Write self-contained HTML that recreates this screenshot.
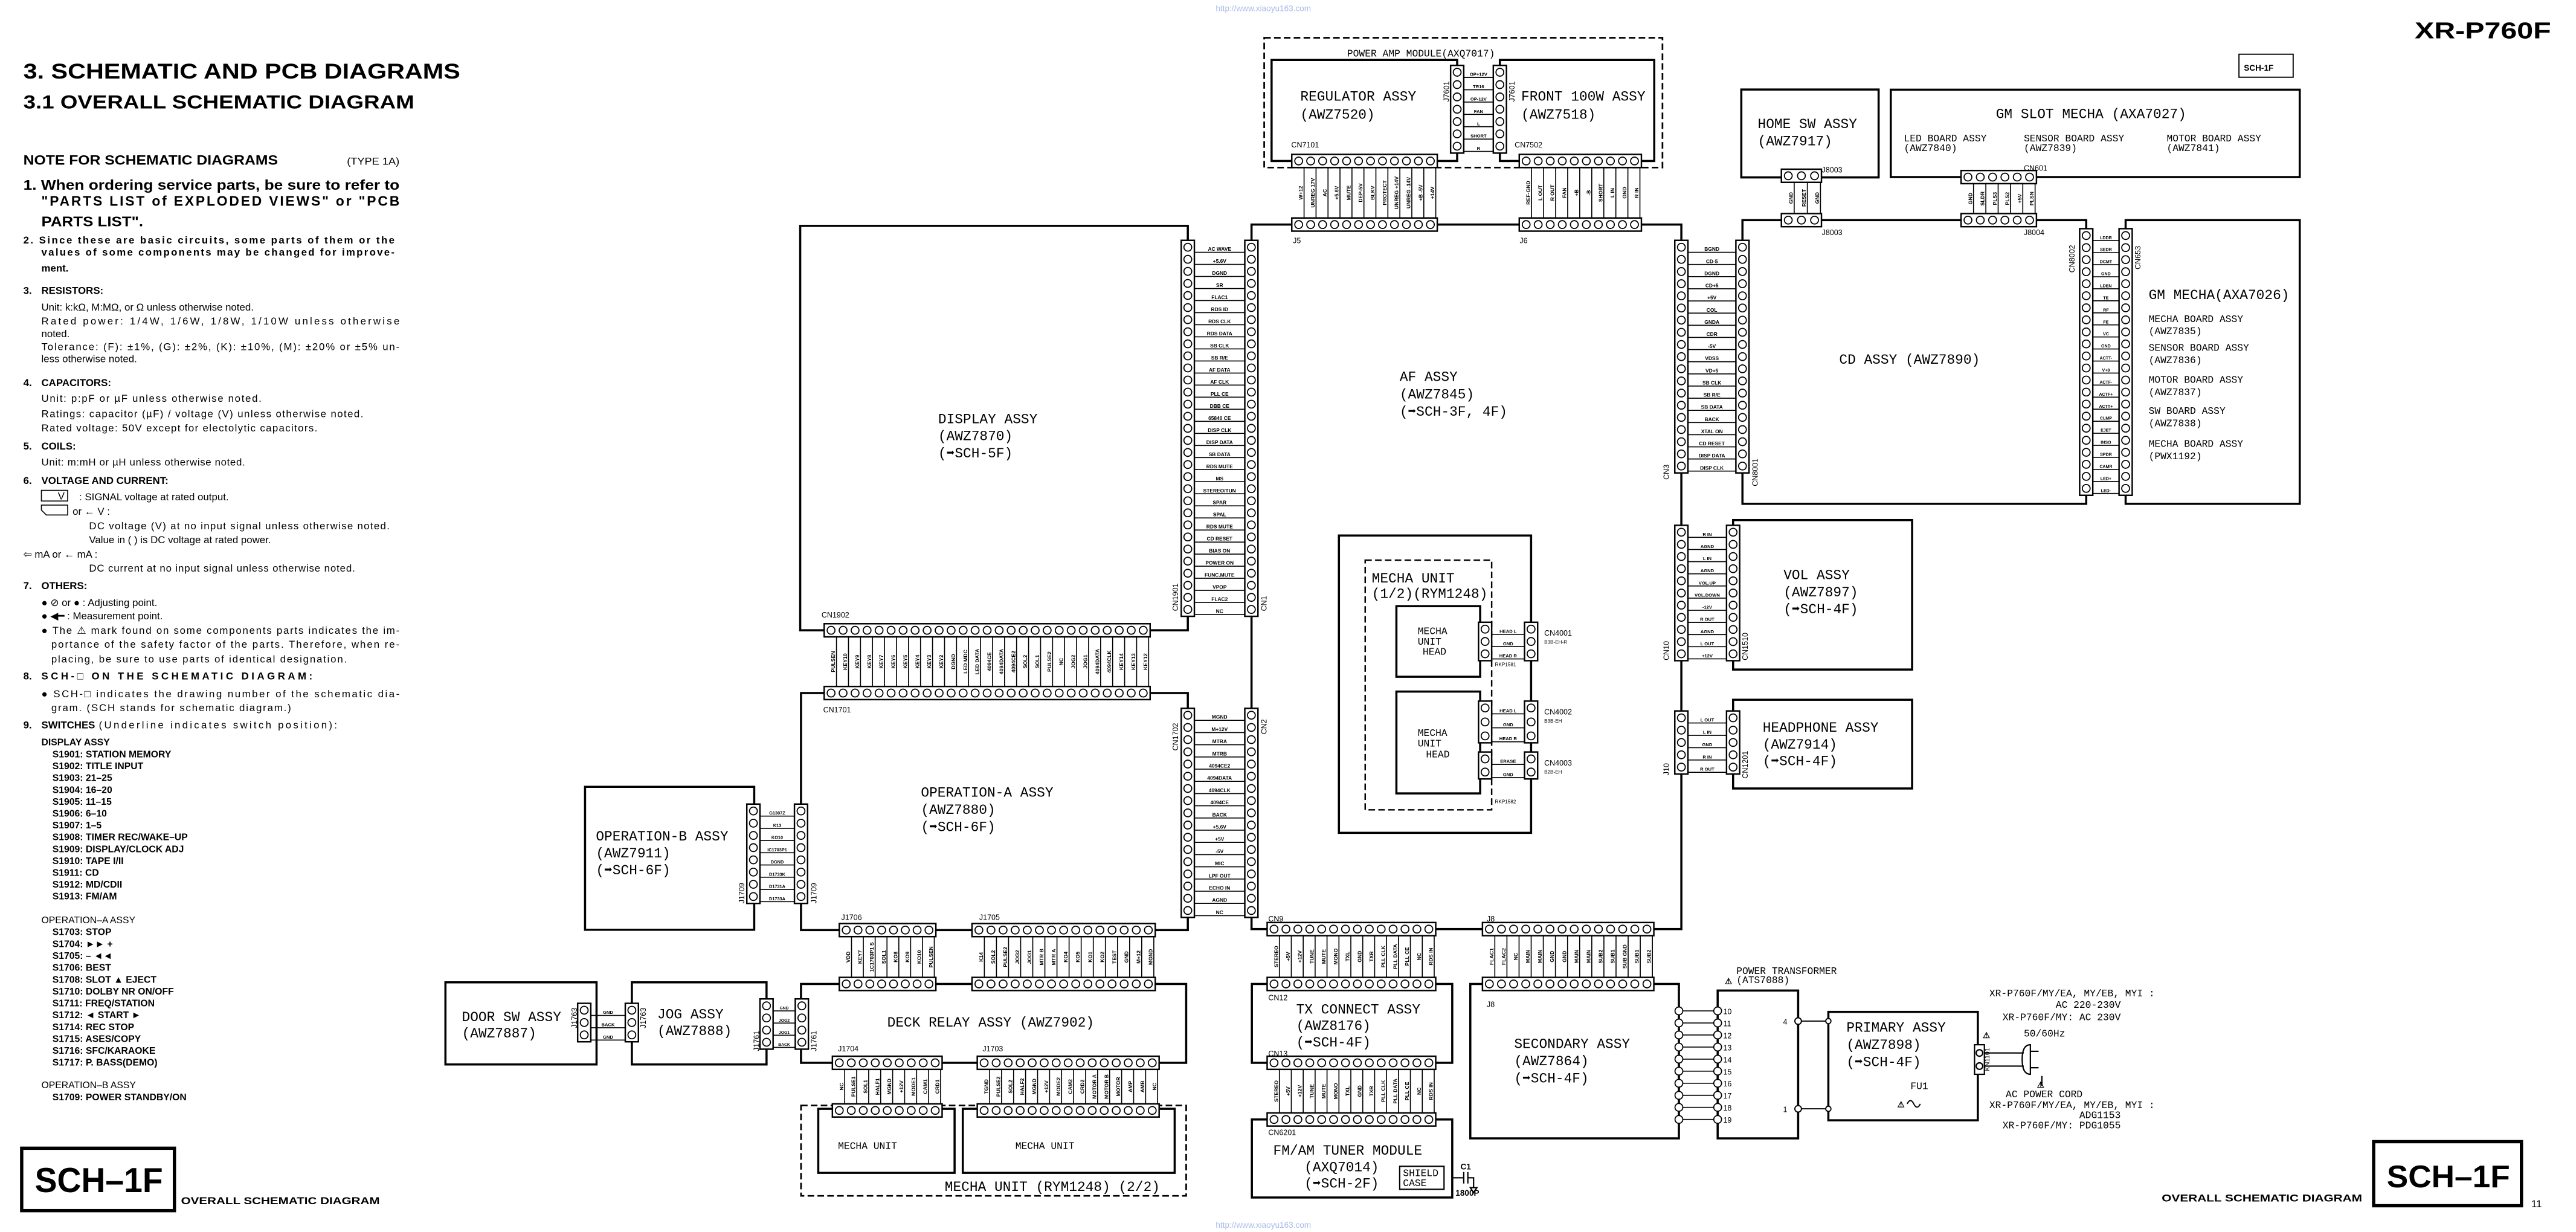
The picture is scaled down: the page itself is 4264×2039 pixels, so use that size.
<!DOCTYPE html>
<html><head><meta charset="utf-8">
<style>
html,body{margin:0;padding:0;background:#fff;}
svg{display:block;}
.m{font-family:"Liberation Mono",monospace;font-size:8.4px;fill:#000;}
.ms{font-family:"Liberation Mono",monospace;font-size:6px;fill:#000;}
.n{font-family:"Liberation Sans",sans-serif;font-size:5px;font-weight:bold;fill:#000;}
.s{font-family:"Liberation Sans",sans-serif;font-size:6.2px;fill:#000;}
.sb{font-family:"Liberation Sans",sans-serif;font-size:6.2px;font-weight:bold;fill:#000;}
.sw{font-family:"Liberation Sans",sans-serif;font-size:5.8px;font-weight:bold;fill:#000;}
.h{font-family:"Liberation Sans",sans-serif;font-weight:bold;fill:#000;}
.w{font-family:"Liberation Sans",sans-serif;font-size:5px;fill:#a9bce6;}
.pl{font-family:"Liberation Sans",sans-serif;font-weight:bold;font-size:3.2px;fill:#000;}
.cl{font-family:"Liberation Sans",sans-serif;font-size:4.6px;fill:#000;}
.cr{fill:#fff;stroke:#000;stroke-width:0.9;}
.d1{fill:none;stroke:#000;stroke-width:5.4;stroke-linecap:round;}
.d2{fill:none;stroke:#fff;stroke-width:4.1;stroke-linecap:round;}
.br{fill:none;stroke:#000;}
</style></head>
<body>
<svg xmlns="http://www.w3.org/2000/svg" width="4264" height="2039" viewBox="0 0 1568 750">
<rect x="0" y="0" width="1568" height="750" fill="#fff"/>
<text class="w" x="740" y="6.8">http://www.xiaoyu163.com</text>
<text class="w" x="740" y="747.5">http://www.xiaoyu163.com</text>
<text class="h" x="1470" y="23.3" font-size="14" textLength="83" lengthAdjust="spacingAndGlyphs">XR-P760F</text>
<rect x="1363" y="33" width="33" height="14" fill="none" stroke="#000" stroke-width="0.7"/>
<text class="n" x="1366" y="43" font-size="5.5" font-weight="normal">SCH-1F</text>

<text class="h" x="14" y="47.8" font-size="12.8" textLength="266" lengthAdjust="spacingAndGlyphs">3. SCHEMATIC AND PCB DIAGRAMS</text>
<text class="h" x="14" y="66" font-size="11.5" textLength="238" lengthAdjust="spacingAndGlyphs">3.1  OVERALL SCHEMATIC DIAGRAM</text>

<text class="h" x="14" y="100.3" font-size="8" textLength="155" lengthAdjust="spacingAndGlyphs">NOTE FOR SCHEMATIC DIAGRAMS</text>
<text class="s" x="211" y="100.3" textLength="32" lengthAdjust="spacingAndGlyphs">(TYPE 1A)</text>
<text class="h" x="14" y="115.5" font-size="8.4" textLength="229" lengthAdjust="spacingAndGlyphs">1. When ordering service parts, be sure to refer to</text>
<text class="h" x="25" y="125.3" font-size="8.4" textLength="218" lengthAdjust="spacing">"PARTS LIST of EXPLODED VIEWS" or "PCB</text>
<text class="h" x="25" y="137.7" font-size="8.4" textLength="62" lengthAdjust="spacingAndGlyphs">PARTS LIST".</text>
<text class="sb" x="14" y="148.3" textLength="226" lengthAdjust="spacing">2. Since these are basic circuits, some parts of them or the</text>
<text class="sb" x="25" y="155.5" textLength="215" lengthAdjust="spacing">values of some components may be changed for improve-</text>
<text class="sb" x="25" y="165.3">ment.</text>
<text class="sb" x="14" y="179">3.</text><text class="sb" x="25" y="179">RESISTORS:</text>
<text class="s" x="25" y="189">Unit: k:kΩ, M:MΩ, or Ω unless otherwise noted.</text>
<text class="s" x="25" y="197.5" textLength="218" lengthAdjust="spacing">Rated power: 1/4W, 1/6W, 1/8W, 1/10W unless otherwise</text>
<text class="s" x="25" y="205.3">noted.</text>
<text class="s" x="25" y="213.2" textLength="218" lengthAdjust="spacing">Tolerance: (F): ±1%, (G): ±2%, (K): ±10%, (M): ±20% or ±5% un-</text>
<text class="s" x="25" y="220.5">less otherwise noted.</text>
<text class="sb" x="14" y="235">4.</text><text class="sb" x="25" y="235">CAPACITORS:</text>
<text class="s" x="25" y="244.6" textLength="134" lengthAdjust="spacing">Unit: p:pF or µF unless otherwise noted.</text>
<text class="s" x="25" y="254" textLength="196" lengthAdjust="spacing">Ratings: capacitor (µF) / voltage (V) unless otherwise noted.</text>
<text class="s" x="25" y="262.6" textLength="168" lengthAdjust="spacing">Rated voltage: 50V except for electolytic capacitors.</text>
<text class="sb" x="14" y="273.6">5.</text><text class="sb" x="25" y="273.6">COILS:</text>
<text class="s" x="25" y="283.5" textLength="124" lengthAdjust="spacing">Unit: m:mH or µH unless otherwise noted.</text>
<text class="sb" x="14" y="294.6">6.</text><text class="sb" x="25" y="294.6">VOLTAGE AND CURRENT:</text>
<path d="M25 298.5 H41 V305 H25 Z M25 307.5 H41 V313.5 H28 L25 310.5 Z" fill="none" stroke="#000" stroke-width="0.6"/>
<text class="s" x="35" y="304" font-size="5">V</text>
<text class="s" x="48" y="304.5">: SIGNAL voltage at rated output.</text>
<text class="s" x="44" y="313.3">or ← V :</text>
<text class="s" x="54" y="322.2" textLength="183" lengthAdjust="spacing">DC voltage (V) at no input signal unless otherwise noted.</text>
<text class="s" x="54" y="330.6">Value in (     ) is DC voltage at rated power.</text>
<text class="s" x="14" y="339.5">⇦   mA  or  ← mA :</text>
<text class="s" x="54" y="347.9" textLength="162" lengthAdjust="spacing">DC current at no input signal unless otherwise noted.</text>
<text class="sb" x="14" y="358.6">7.</text><text class="sb" x="25" y="358.6">OTHERS:</text>
<text class="s" x="25" y="368.9">● ⊘  or  ●  : Adjusting point.</text>
<text class="s" x="25" y="377">●      ◀━   : Measurement point.</text>
<text class="s" x="25" y="385.8" textLength="218" lengthAdjust="spacing">● The  ⚠  mark found on some components parts indicates the  im-</text>
<text class="s" x="31" y="394.4" textLength="212" lengthAdjust="spacing">portance of the safety factor of the parts. Therefore, when re-</text>
<text class="s" x="31" y="403.4" textLength="180" lengthAdjust="spacing">placing, be sure to use parts of identical designation.</text>
<text class="sb" x="14" y="413.7">8.</text><text class="sb" x="25" y="413.7" textLength="165" lengthAdjust="spacing">SCH-□  ON THE SCHEMATIC DIAGRAM:</text>
<text class="s" x="25" y="424.4" textLength="218" lengthAdjust="spacing">● SCH-□ indicates the drawing number of the schematic dia-</text>
<text class="s" x="31" y="433" textLength="146" lengthAdjust="spacing">gram. (SCH stands for schematic diagram.)</text>
<text class="sb" x="14" y="443.4">9.</text><text class="sb" x="25" y="443.4">SWITCHES</text><text class="s" x="60" y="443.4" textLength="145" lengthAdjust="spacing">(Underline indicates switch position):</text>
<text class="sw" x="25" y="453.7" font-weight="normal">DISPLAY ASSY</text>
<g class="sw">
<text x="31.7" y="461">S1901: STATION MEMORY</text>
<text x="31.7" y="468.2">S1902: TITLE INPUT</text>
<text x="31.7" y="475.4">S1903: 21–25</text>
<text x="31.7" y="482.7">S1904: 16–20</text>
<text x="31.7" y="489.9">S1905: 11–15</text>
<text x="31.7" y="497.1">S1906: 6–10</text>
<text x="31.7" y="504.3">S1907: 1–5</text>
<text x="31.7" y="511.5">S1908: TIMER REC/WAKE–UP</text>
<text x="31.7" y="518.8">S1909: DISPLAY/CLOCK ADJ</text>
<text x="31.7" y="526">S1910: TAPE I/II</text>
<text x="31.7" y="533.2">S1911: CD</text>
<text x="31.7" y="540.4">S1912: MD/CDII</text>
<text x="31.7" y="547.6">S1913: FM/AM</text>
<text x="25" y="562" font-weight="normal">OPERATION–A ASSY</text>
<text x="31.7" y="569.3">S1703: STOP</text>
<text x="31.7" y="576.5">S1704: ►► +</text>
<text x="31.7" y="583.7">S1705: – ◄◄</text>
<text x="31.7" y="591">S1706: BEST</text>
<text x="31.7" y="598.2">S1708: SLOT ▲ EJECT</text>
<text x="31.7" y="605.4">S1710: DOLBY NR ON/OFF</text>
<text x="31.7" y="612.6">S1711: FREQ/STATION</text>
<text x="31.7" y="619.8">S1712: ◄ START ►</text>
<text x="31.7" y="627.1">S1714: REC STOP</text>
<text x="31.7" y="634.3">S1715: ASES/COPY</text>
<text x="31.7" y="641.5">S1716: SFC/KARAOKE</text>
<text x="31.7" y="648.7">S1717: P. BASS(DEMO)</text>
<text x="25" y="662.4" font-weight="normal">OPERATION–B ASSY</text>
<text x="31.7" y="669.8">S1709: POWER STANDBY/ON</text>
</g>
<rect x="13" y="699" width="93" height="38" fill="none" stroke="#000" stroke-width="2"/>
<text class="h" x="21" y="725.7" font-size="21" textLength="78" lengthAdjust="spacingAndGlyphs">SCH–1F</text>
<text class="h" x="110" y="733" font-size="6.2" textLength="121" lengthAdjust="spacingAndGlyphs">OVERALL SCHEMATIC DIAGRAM</text>
<rect x="1445" y="695" width="90" height="39" fill="none" stroke="#000" stroke-width="2"/>
<text class="h" x="1453" y="722.7" font-size="19" textLength="75" lengthAdjust="spacingAndGlyphs">SCH–1F</text>
<text class="h" x="1316" y="731.5" font-size="6.2" font-weight="normal" textLength="122" lengthAdjust="spacingAndGlyphs">OVERALL SCHEMATIC DIAGRAM</text>
<text class="s" x="1541" y="735" font-size="7.5">11</text>

<!-- boxes -->
<g fill="none" stroke="#000" stroke-width="1.3">
<rect x="769.5" y="23" width="242.5" height="79" stroke-dasharray="4 2" stroke-width="1"/>
<rect x="774" y="36.5" width="113" height="61.5"/>
<rect x="913" y="36.5" width="94" height="61.5"/>
<rect x="761.8" y="136.7" width="261.7" height="428.9"/>
<rect x="487" y="137.5" width="236" height="246.2"/>
<rect x="487.5" y="421.9" width="235.5" height="144.3"/>
<rect x="356" y="479" width="103" height="87"/>
<rect x="487.5" y="599" width="234.5" height="48"/>
<rect x="271" y="598" width="92" height="50"/>
<rect x="384.5" y="598" width="82" height="50"/>
<rect x="487.5" y="673" width="234.5" height="55" stroke-dasharray="4 2" stroke-width="1"/>
<rect x="498" y="675" width="83" height="39"/>
<rect x="586" y="675" width="129" height="39"/>
<rect x="815" y="326" width="117" height="181"/>
<rect x="831" y="341" width="77" height="152" stroke-dasharray="4 2" stroke-width="0.9"/>
<rect x="850" y="369" width="51" height="43"/>
<rect x="850" y="421" width="51" height="62"/>
<rect x="1060.7" y="134" width="209.3" height="172.7"/>
<rect x="1060" y="54.5" width="83.6" height="53.5"/>
<rect x="1151" y="54.6" width="249" height="53.2"/>
<rect x="1294" y="134" width="106" height="172.7"/>
<rect x="1055" y="316.6" width="109" height="91"/>
<rect x="1055" y="426" width="109" height="54"/>
<rect x="762" y="599" width="122" height="48"/>
<rect x="762" y="681.5" width="122" height="47.5"/>
<rect x="895" y="599" width="127" height="94"/>
<rect x="1045.6" y="603" width="49" height="90"/>
<rect x="1113" y="616" width="91" height="66"/>
<rect x="852" y="710" width="27" height="14" stroke-width="0.8"/>
</g>

<!-- ========== CONNECTORS ========== -->
<!-- bridge bars -->
<g class="br">
<line x1="900" y1="46.85" x2="900" y2="99.35" stroke-width="18" stroke-dasharray="0.6 6.9"/>
<line x1="793.48" y1="117.35" x2="880.96" y2="117.35" stroke-width="30.7" stroke-dasharray="0.6 6.69"/>
<line x1="932" y1="117.35" x2="1005.3" y2="117.35" stroke-width="30.7" stroke-dasharray="0.6 6.73"/>
<line x1="742.35" y1="153.29" x2="742.35" y2="381.14" stroke-width="30.7" stroke-dasharray="0.6 6.75"/>
<line x1="508.79" y1="402.8" x2="706.16" y2="402.8" stroke-width="30.2" stroke-dasharray="0.6 6.71"/>
<line x1="742.35" y1="438.22" x2="742.35" y2="564.53" stroke-width="30.7" stroke-dasharray="0.6 6.83"/>
<line x1="473" y1="496.52" x2="473" y2="556.04" stroke-width="21" stroke-dasharray="0.6 6.84"/>
<line x1="517.94" y1="582.6" x2="575.54" y2="582.6" stroke-width="24.8" stroke-dasharray="0.6 6.6"/>
<line x1="598.82" y1="582.6" x2="709.37" y2="582.6" stroke-width="24.8" stroke-dasharray="0.6 6.77"/>
<line x1="477.25" y1="615.11" x2="477.25" y2="644.71" stroke-width="13.5" stroke-dasharray="0.6 6.8"/>
<line x1="370" y1="617.85" x2="370" y2="640.35" stroke-width="21" stroke-dasharray="0.6 6.9"/>
<line x1="513.79" y1="661.5" x2="579.49" y2="661.5" stroke-width="21" stroke-dasharray="0.6 6.7"/>
<line x1="601.99" y1="661.5" x2="711.64" y2="661.5" stroke-width="21" stroke-dasharray="0.6 6.71"/>
<line x1="918" y1="385.85" x2="918" y2="408.35" stroke-width="20" stroke-dasharray="0.6 6.9"/>
<line x1="918" y1="434.27" x2="918" y2="459.77" stroke-width="20" stroke-dasharray="0.6 7.9"/>
<line x1="918" y1="465.06" x2="918" y2="481.06" stroke-width="20" stroke-dasharray="0.6 7.4"/>
<line x1="1042.1" y1="153.31" x2="1042.1" y2="293.91" stroke-width="29.2" stroke-dasharray="0.6 6.8"/>
<line x1="1091.9" y1="120.5" x2="1115.9" y2="120.5" stroke-width="19" stroke-dasharray="0.6 7.4"/>
<line x1="1201.08" y1="120.9" x2="1246.08" y2="120.9" stroke-width="18.2" stroke-dasharray="0.6 6.9"/>
<line x1="1282" y1="146.18" x2="1282" y2="307.44" stroke-width="16" stroke-dasharray="0.6 6.73"/>
<line x1="1039.25" y1="326.81" x2="1039.25" y2="408.21" stroke-width="23.5" stroke-dasharray="0.6 6.8"/>
<line x1="1039.25" y1="439.85" x2="1039.25" y2="477.35" stroke-width="23.5" stroke-dasharray="0.6 6.9"/>
<line x1="778.46" y1="582.3" x2="879.96" y2="582.3" stroke-width="25.4" stroke-dasharray="0.6 6.65"/>
<line x1="778.46" y1="664.25" x2="879.96" y2="664.25" stroke-width="26.5" stroke-dasharray="0.6 6.65"/>
<line x1="909.62" y1="582.3" x2="1012.94" y2="582.3" stroke-width="25.4" stroke-dasharray="0.6 6.78"/>
<line x1="1033.8" y1="615.1" x2="1033.8" y2="688.5" stroke-width="23.6" stroke-dasharray="0.6 6.74"/>
</g>

<!-- connector bodies -->
<g class="cr">
<rect x="883" y="39.8" width="8" height="53.4"/><rect x="909" y="39.8" width="8" height="53.4"/>
<rect x="786.3" y="94" width="88.59" height="8"/><rect x="786.3" y="132.7" width="88.59" height="8"/>
<rect x="924.8" y="94" width="74.37" height="8"/><rect x="924.8" y="132.7" width="74.37" height="8"/>
<rect x="719" y="146.3" width="8" height="228.9"/><rect x="757.7" y="146.3" width="8" height="228.9"/>
<rect x="501.6" y="379.7" width="198.46" height="8"/><rect x="501.6" y="417.9" width="198.46" height="8"/>
<rect x="719" y="431.2" width="8" height="127.28"/><rect x="757.7" y="431.2" width="8" height="127.28"/>
<rect x="454.5" y="489.5" width="8" height="60.48"/><rect x="483.5" y="489.5" width="8" height="60.48"/>
<rect x="510.8" y="562.2" width="58.8" height="8"/><rect x="510.8" y="595" width="58.8" height="8"/>
<rect x="591.6" y="562.2" width="111.58" height="8"/><rect x="591.6" y="595" width="111.58" height="8"/>
<rect x="462.5" y="608.1" width="8" height="30.6"/><rect x="484" y="608.1" width="8" height="30.6"/>
<rect x="351.5" y="610.8" width="8" height="23.4"/><rect x="380.5" y="610.8" width="8" height="23.4"/>
<rect x="506.6" y="643" width="66.8" height="8"/><rect x="506.6" y="672" width="66.8" height="8"/>
<rect x="594.8" y="643" width="110.74" height="8"/><rect x="594.8" y="672" width="110.74" height="8"/>
<rect x="900" y="378.8" width="8" height="23.4"/><rect x="928" y="378.8" width="8" height="23.4"/>
<rect x="900" y="426.8" width="8" height="25.4"/><rect x="928" y="426.8" width="8" height="25.4"/>
<rect x="900" y="457.8" width="8" height="16.4"/><rect x="928" y="457.8" width="8" height="16.4"/>
<rect x="1019.5" y="146.3" width="8" height="141.6"/><rect x="1056.7" y="146.3" width="8" height="141.6"/>
<rect x="1084.4" y="103" width="24.4" height="8"/><rect x="1084.4" y="130" width="24.4" height="8"/>
<rect x="1193.8" y="103.8" width="45.9" height="8"/><rect x="1193.8" y="130" width="45.9" height="8"/>
<rect x="1266" y="139.2" width="8" height="162.33"/><rect x="1290" y="139.2" width="8" height="162.33"/>
<rect x="1019.5" y="319.8" width="8" height="82.4"/><rect x="1051" y="319.8" width="8" height="82.4"/>
<rect x="1019.5" y="432.8" width="8" height="38.4"/><rect x="1051" y="432.8" width="8" height="38.4"/>
<rect x="771.3" y="561.6" width="102.65" height="8"/><rect x="771.3" y="595" width="102.65" height="8"/>
<rect x="771.3" y="643" width="102.65" height="8"/><rect x="771.3" y="677.5" width="102.65" height="8"/>
<rect x="902.4" y="561.6" width="104.34" height="8"/><rect x="902.4" y="595" width="104.34" height="8"/>
</g>

<!-- pins: black rings -->
<g>
<path class="d1" stroke-dasharray="0 7.5" d="M887 44 V89.01 M913 44 V89.01"/>
<path class="d2" stroke-dasharray="0 7.5" d="M887 44 V89.01 M913 44 V89.01"/>
<path class="d1" stroke-dasharray="0 7.29" d="M790.5 98 H870.7 M790.5 136.7 H870.7"/>
<path class="d2" stroke-dasharray="0 7.29" d="M790.5 98 H870.7 M790.5 136.7 H870.7"/>
<path class="d1" stroke-dasharray="0 7.33" d="M929 98 H994.98 M929 136.7 H994.98"/>
<path class="d2" stroke-dasharray="0 7.33" d="M929 98 H994.98 M929 136.7 H994.98"/>
<path class="d1" stroke-dasharray="0 7.35" d="M723 150.5 V371.01 M761.7 150.5 V371.01"/>
<path class="d2" stroke-dasharray="0 7.35" d="M723 150.5 V371.01 M761.7 150.5 V371.01"/>
<path class="d1" stroke-dasharray="0 7.31" d="M505.8 383.7 H695.87 M505.8 421.9 H695.87"/>
<path class="d2" stroke-dasharray="0 7.31" d="M505.8 383.7 H695.87 M505.8 421.9 H695.87"/>
<path class="d1" stroke-dasharray="0 7.43" d="M723 435.4 V554.29 M761.7 435.4 V554.29"/>
<path class="d2" stroke-dasharray="0 7.43" d="M723 435.4 V554.29 M761.7 435.4 V554.29"/>
<path class="d1" stroke-dasharray="0 7.44" d="M458.5 493.7 V545.79 M487.5 493.7 V545.79"/>
<path class="d2" stroke-dasharray="0 7.44" d="M458.5 493.7 V545.79 M487.5 493.7 V545.79"/>
<path class="d1" stroke-dasharray="0 7.2" d="M515 566.2 H565.41 M515 599 H565.41"/>
<path class="d2" stroke-dasharray="0 7.2" d="M515 566.2 H565.41 M515 599 H565.41"/>
<path class="d1" stroke-dasharray="0 7.37" d="M595.8 566.2 H698.99 M595.8 599 H698.99"/>
<path class="d2" stroke-dasharray="0 7.37" d="M595.8 566.2 H698.99 M595.8 599 H698.99"/>
<path class="d1" stroke-dasharray="0 7.4" d="M466.5 612.3 V634.51 M488 612.3 V634.51"/>
<path class="d2" stroke-dasharray="0 7.4" d="M466.5 612.3 V634.51 M488 612.3 V634.51"/>
<path class="d1" stroke-dasharray="0 7.5" d="M355.5 615 V630.01 M384.5 615 V630.01"/>
<path class="d2" stroke-dasharray="0 7.5" d="M355.5 615 V630.01 M384.5 615 V630.01"/>
<path class="d1" stroke-dasharray="0 7.3" d="M510.8 647 H569.21 M510.8 676 H569.21"/>
<path class="d2" stroke-dasharray="0 7.3" d="M510.8 647 H569.21 M510.8 676 H569.21"/>
<path class="d1" stroke-dasharray="0 7.31" d="M599 647 H701.35 M599 676 H701.35"/>
<path class="d2" stroke-dasharray="0 7.31" d="M599 647 H701.35 M599 676 H701.35"/>
<path class="d1" stroke-dasharray="0 7.5" d="M904 383 V398.01 M932 383 V398.01"/>
<path class="d2" stroke-dasharray="0 7.5" d="M904 383 V398.01 M932 383 V398.01"/>
<path class="d1" stroke-dasharray="0 8.5" d="M904 431 V448.01 M932 431 V448.01"/>
<path class="d2" stroke-dasharray="0 8.5" d="M904 431 V448.01 M932 431 V448.01"/>
<path class="d1" stroke-dasharray="0 8" d="M904 462 V470.01 M932 462 V470.01"/>
<path class="d2" stroke-dasharray="0 8" d="M904 462 V470.01 M932 462 V470.01"/>
<path class="d1" stroke-dasharray="0 7.4" d="M1023.5 150.5 V283.71 M1060.7 150.5 V283.71"/>
<path class="d2" stroke-dasharray="0 7.4" d="M1023.5 150.5 V283.71 M1060.7 150.5 V283.71"/>
<path class="d1" stroke-dasharray="0 8" d="M1088.6 107 H1104.61 M1088.6 134 H1104.61"/>
<path class="d2" stroke-dasharray="0 8" d="M1088.6 107 H1104.61 M1088.6 134 H1104.61"/>
<path class="d1" stroke-dasharray="0 7.5" d="M1198 107.8 H1235.51 M1198 134 H1235.51"/>
<path class="d2" stroke-dasharray="0 7.5" d="M1198 107.8 H1235.51 M1198 134 H1235.51"/>
<path class="d1" stroke-dasharray="0 7.33" d="M1270 143.4 V297.34 M1294 143.4 V297.34"/>
<path class="d2" stroke-dasharray="0 7.33" d="M1270 143.4 V297.34 M1294 143.4 V297.34"/>
<path class="d1" stroke-dasharray="0 7.4" d="M1023.5 324 V398.01 M1055 324 V398.01"/>
<path class="d2" stroke-dasharray="0 7.4" d="M1023.5 324 V398.01 M1055 324 V398.01"/>
<path class="d1" stroke-dasharray="0 7.5" d="M1023.5 437 V467.01 M1055 437 V467.01"/>
<path class="d2" stroke-dasharray="0 7.5" d="M1023.5 437 V467.01 M1055 437 V467.01"/>
<path class="d1" stroke-dasharray="0 7.25" d="M775.5 565.6 H869.76 M775.5 599 H869.76 M775.5 647 H869.76 M775.5 681.5 H869.76"/>
<path class="d2" stroke-dasharray="0 7.25" d="M775.5 565.6 H869.76 M775.5 599 H869.76 M775.5 647 H869.76 M775.5 681.5 H869.76"/>
<path class="d1" stroke-dasharray="0 7.38" d="M906.6 565.6 H1002.55 M906.6 599 H1002.55"/>
<path class="d2" stroke-dasharray="0 7.38" d="M906.6 565.6 H1002.55 M906.6 599 H1002.55"/>
<path class="d1" stroke-dasharray="0 7.34" stroke-width="4" d="M1022 615.4 V681.47 M1045.6 615.4 V681.47"/>
<path class="d2" stroke-dasharray="0 7.34" stroke-width="2.8" d="M1022 615.4 V681.47 M1045.6 615.4 V681.47"/>
</g>

<!-- pin labels: vertical-bridge (row) labels -->
<g class="pl" text-anchor="middle">
<text x="900" y="46.25" font-size="2.8"><tspan x="900">OP+12V</tspan><tspan x="900" dy="7.5">TR16</tspan><tspan x="900" dy="7.5">OP-12V</tspan><tspan x="900" dy="7.5">FAN</tspan><tspan x="900" dy="7.5">L</tspan><tspan x="900" dy="7.5">SHORT</tspan><tspan x="900" dy="7.5">R</tspan></text>
<text x="742.35" y="152.69" font-size="3.1"><tspan x="742.35">AC WAVE</tspan><tspan x="742.35" dy="7.35">+5.6V</tspan><tspan x="742.35" dy="7.35">DGND</tspan><tspan x="742.35" dy="7.35">SR</tspan><tspan x="742.35" dy="7.35">FLAC1</tspan><tspan x="742.35" dy="7.35">RDS ID</tspan><tspan x="742.35" dy="7.35">RDS CLK</tspan><tspan x="742.35" dy="7.35">RDS DATA</tspan><tspan x="742.35" dy="7.35">SB CLK</tspan><tspan x="742.35" dy="7.35">SB R/E</tspan><tspan x="742.35" dy="7.35">AF DATA</tspan><tspan x="742.35" dy="7.35">AF CLK</tspan><tspan x="742.35" dy="7.35">PLL CE</tspan><tspan x="742.35" dy="7.35">DBB CE</tspan><tspan x="742.35" dy="7.35">65840 CE</tspan><tspan x="742.35" dy="7.35">DISP CLK</tspan><tspan x="742.35" dy="7.35">DISP DATA</tspan><tspan x="742.35" dy="7.35">SB DATA</tspan><tspan x="742.35" dy="7.35">RDS MUTE</tspan><tspan x="742.35" dy="7.35">MS</tspan><tspan x="742.35" dy="7.35">STEREO/TUN</tspan><tspan x="742.35" dy="7.35">SPAR</tspan><tspan x="742.35" dy="7.35">SPAL</tspan><tspan x="742.35" dy="7.35">RDS MUTE</tspan><tspan x="742.35" dy="7.35">CD RESET</tspan><tspan x="742.35" dy="7.35">BIAS ON</tspan><tspan x="742.35" dy="7.35">POWER ON</tspan><tspan x="742.35" dy="7.35">FUNC.MUTE</tspan><tspan x="742.35" dy="7.35">VPOP</tspan><tspan x="742.35" dy="7.35">FLAC2</tspan><tspan x="742.35" dy="7.35">NC</tspan></text>
<text x="742.35" y="437.62" font-size="3.1"><tspan x="742.35">MGND</tspan><tspan x="742.35" dy="7.43">M+12V</tspan><tspan x="742.35" dy="7.43">MTRA</tspan><tspan x="742.35" dy="7.43">MTRB</tspan><tspan x="742.35" dy="7.43">4094CE2</tspan><tspan x="742.35" dy="7.43">4094DATA</tspan><tspan x="742.35" dy="7.43">4094CLK</tspan><tspan x="742.35" dy="7.43">4094CE</tspan><tspan x="742.35" dy="7.43">BACK</tspan><tspan x="742.35" dy="7.43">+5.6V</tspan><tspan x="742.35" dy="7.43">+5V</tspan><tspan x="742.35" dy="7.43">-5V</tspan><tspan x="742.35" dy="7.43">MIC</tspan><tspan x="742.35" dy="7.43">LPF OUT</tspan><tspan x="742.35" dy="7.43">ECHO IN</tspan><tspan x="742.35" dy="7.43">AGND</tspan><tspan x="742.35" dy="7.43">NC</tspan></text>
<text x="473" y="495.92" font-size="2.7"><tspan x="473">G1307Z</tspan><tspan x="473" dy="7.44">K13</tspan><tspan x="473" dy="7.44">KO10</tspan><tspan x="473" dy="7.44">IC1703P1</tspan><tspan x="473" dy="7.44">DGND</tspan><tspan x="473" dy="7.44">D1733K</tspan><tspan x="473" dy="7.44">D1731A</tspan><tspan x="473" dy="7.44">D1733A</tspan></text>
<text x="477.25" y="614.51" font-size="2.5"><tspan x="477.25">GND</tspan><tspan x="477.25" dy="7.4">JOG2</tspan><tspan x="477.25" dy="7.4">JOG1</tspan><tspan x="477.25" dy="7.4">BACK</tspan></text>
<text x="370" y="617.25" font-size="2.8"><tspan x="370">GND</tspan><tspan x="370" dy="7.5">BACK</tspan><tspan x="370" dy="7.5">GND</tspan></text>
<text x="918" y="385.25" font-size="2.8"><tspan x="918">HEAD L</tspan><tspan x="918" dy="7.5">GND</tspan><tspan x="918" dy="7.5">HEAD R</tspan></text>
<text x="918" y="433.67" font-size="2.8"><tspan x="918">HEAD L</tspan><tspan x="918" dy="8.5">GND</tspan><tspan x="918" dy="8.5">HEAD R</tspan></text>
<text x="918" y="464.46" font-size="2.8"><tspan x="918">ERASE</tspan><tspan x="918" dy="8">GND</tspan></text>
<text x="1042.1" y="152.71" font-size="3.1"><tspan x="1042.1">BGND</tspan><tspan x="1042.1" dy="7.4">CD-5</tspan><tspan x="1042.1" dy="7.4">DGND</tspan><tspan x="1042.1" dy="7.4">CD+5</tspan><tspan x="1042.1" dy="7.4">+5V</tspan><tspan x="1042.1" dy="7.4">COL</tspan><tspan x="1042.1" dy="7.4">GNDA</tspan><tspan x="1042.1" dy="7.4">CDR</tspan><tspan x="1042.1" dy="7.4">-5V</tspan><tspan x="1042.1" dy="7.4">VDSS</tspan><tspan x="1042.1" dy="7.4">VD+5</tspan><tspan x="1042.1" dy="7.4">SB CLK</tspan><tspan x="1042.1" dy="7.4">SB R/E</tspan><tspan x="1042.1" dy="7.4">SB DATA</tspan><tspan x="1042.1" dy="7.4">BACK</tspan><tspan x="1042.1" dy="7.4">XTAL ON</tspan><tspan x="1042.1" dy="7.4">CD RESET</tspan><tspan x="1042.1" dy="7.4">DISP DATA</tspan><tspan x="1042.1" dy="7.4">DISP CLK</tspan></text>
<text x="1282" y="145.58" font-size="2.6"><tspan x="1282">LDDR</tspan><tspan x="1282" dy="7.33">SEDR</tspan><tspan x="1282" dy="7.33">DCMT</tspan><tspan x="1282" dy="7.33">GND</tspan><tspan x="1282" dy="7.33">LDEN</tspan><tspan x="1282" dy="7.33">TE</tspan><tspan x="1282" dy="7.33">RF</tspan><tspan x="1282" dy="7.33">FE</tspan><tspan x="1282" dy="7.33">VC</tspan><tspan x="1282" dy="7.33">GND</tspan><tspan x="1282" dy="7.33">ACTT-</tspan><tspan x="1282" dy="7.33">V+8</tspan><tspan x="1282" dy="7.33">ACTF-</tspan><tspan x="1282" dy="7.33">ACTF+</tspan><tspan x="1282" dy="7.33">ACTT+</tspan><tspan x="1282" dy="7.33">CLMP</tspan><tspan x="1282" dy="7.33">EJET</tspan><tspan x="1282" dy="7.33">INSO</tspan><tspan x="1282" dy="7.33">SPDR</tspan><tspan x="1282" dy="7.33">CAMR</tspan><tspan x="1282" dy="7.33">LED+</tspan><tspan x="1282" dy="7.33">LED-</tspan></text>
<text x="1039.25" y="326.21" font-size="2.8"><tspan x="1039.25">R IN</tspan><tspan x="1039.25" dy="7.4">AGND</tspan><tspan x="1039.25" dy="7.4">L IN</tspan><tspan x="1039.25" dy="7.4">AGND</tspan><tspan x="1039.25" dy="7.4">VOL.UP</tspan><tspan x="1039.25" dy="7.4">VOL.DOWN</tspan><tspan x="1039.25" dy="7.4">-12V</tspan><tspan x="1039.25" dy="7.4">R OUT</tspan><tspan x="1039.25" dy="7.4">AGND</tspan><tspan x="1039.25" dy="7.4">L OUT</tspan><tspan x="1039.25" dy="7.4">+12V</tspan></text>
<text x="1039.25" y="439.25" font-size="2.8"><tspan x="1039.25">L OUT</tspan><tspan x="1039.25" dy="7.5">L IN</tspan><tspan x="1039.25" dy="7.5">GND</tspan><tspan x="1039.25" dy="7.5">R IN</tspan><tspan x="1039.25" dy="7.5">R OUT</tspan></text>
</g>

<!-- pin labels: horizontal-bridge (rotated) labels -->
<g class="pl" text-anchor="middle" font-size="3">
<text transform="translate(790.5,117.35) rotate(-90)" y="2.38"><tspan x="0">W+12</tspan><tspan x="0" dy="7.29">UNREG 17V</tspan><tspan x="0" dy="7.29">AC</tspan><tspan x="0" dy="7.29">+5.6V</tspan><tspan x="0" dy="7.29">MUTE</tspan><tspan x="0" dy="7.29">DEP-5V</tspan><tspan x="0" dy="7.29">BLKV</tspan><tspan x="0" dy="7.29">PROTECT</tspan><tspan x="0" dy="7.29">UNREG +14V</tspan><tspan x="0" dy="7.29">UNREG -14V</tspan><tspan x="0" dy="7.29">+B -5V</tspan><tspan x="0" dy="7.29">+14V</tspan></text>
<text transform="translate(929,117.35) rotate(-90)" y="2.4"><tspan x="0">REF-GND</tspan><tspan x="0" dy="7.33">L OUT</tspan><tspan x="0" dy="7.33">R OUT</tspan><tspan x="0" dy="7.33">FAN</tspan><tspan x="0" dy="7.33">+B</tspan><tspan x="0" dy="7.33">-B</tspan><tspan x="0" dy="7.33">SHORT</tspan><tspan x="0" dy="7.33">L IN</tspan><tspan x="0" dy="7.33">GND</tspan><tspan x="0" dy="7.33">R IN</tspan></text>
<text transform="translate(505.8,402.8) rotate(-90)" y="2.39"><tspan x="0">PULSEN</tspan><tspan x="0" dy="7.31">KEY10</tspan><tspan x="0" dy="7.31">KEY9</tspan><tspan x="0" dy="7.31">KEY8</tspan><tspan x="0" dy="7.31">KEY7</tspan><tspan x="0" dy="7.31">KEY6</tspan><tspan x="0" dy="7.31">KEY5</tspan><tspan x="0" dy="7.31">KEY4</tspan><tspan x="0" dy="7.31">KEY3</tspan><tspan x="0" dy="7.31">KEY2</tspan><tspan x="0" dy="7.31">DGND</tspan><tspan x="0" dy="7.31">LED MDC</tspan><tspan x="0" dy="7.31">LED DATA</tspan><tspan x="0" dy="7.31">4094CE</tspan><tspan x="0" dy="7.31">4094DATA</tspan><tspan x="0" dy="7.31">4094CE2</tspan><tspan x="0" dy="7.31">SOL2</tspan><tspan x="0" dy="7.31">SOL1</tspan><tspan x="0" dy="7.31">PULSE2</tspan><tspan x="0" dy="7.31">NC</tspan><tspan x="0" dy="7.31">JOG2</tspan><tspan x="0" dy="7.31">JOG1</tspan><tspan x="0" dy="7.31">4094DATA</tspan><tspan x="0" dy="7.31">4094CLK</tspan><tspan x="0" dy="7.31">KEY14</tspan><tspan x="0" dy="7.31">KEY13</tspan><tspan x="0" dy="7.31">KEY12</tspan></text>
<text transform="translate(515,582.6) rotate(-90)" y="2.34"><tspan x="0">VDD</tspan><tspan x="0" dy="7.2">KEY7</tspan><tspan x="0" dy="7.2">1C1703P1 S</tspan><tspan x="0" dy="7.2">SOL1</tspan><tspan x="0" dy="7.2">KO8</tspan><tspan x="0" dy="7.2">KO9</tspan><tspan x="0" dy="7.2">KO10</tspan><tspan x="0" dy="7.2">PULSEN</tspan></text>
<text transform="translate(595.8,582.6) rotate(-90)" y="2.42"><tspan x="0">K14</tspan><tspan x="0" dy="7.37">SOL2</tspan><tspan x="0" dy="7.37">PULSE2</tspan><tspan x="0" dy="7.37">JOG2</tspan><tspan x="0" dy="7.37">JOG1</tspan><tspan x="0" dy="7.37">MTR B</tspan><tspan x="0" dy="7.37">MTR A</tspan><tspan x="0" dy="7.37">KO4</tspan><tspan x="0" dy="7.37">KO5</tspan><tspan x="0" dy="7.37">KO1</tspan><tspan x="0" dy="7.37">KO2</tspan><tspan x="0" dy="7.37">TEST</tspan><tspan x="0" dy="7.37">GND</tspan><tspan x="0" dy="7.37">M+12</tspan><tspan x="0" dy="7.37">MGND</tspan></text>
<text transform="translate(510.8,661.5) rotate(-90)" y="2.39"><tspan x="0">NC</tspan><tspan x="0" dy="7.3">PULSE1</tspan><tspan x="0" dy="7.3">SOL1</tspan><tspan x="0" dy="7.3">HALF1</tspan><tspan x="0" dy="7.3">MGND</tspan><tspan x="0" dy="7.3">+12V</tspan><tspan x="0" dy="7.3">MODE1</tspan><tspan x="0" dy="7.3">CAM1</tspan><tspan x="0" dy="7.3">CRD1</tspan></text>
<text transform="translate(599,661.5) rotate(-90)" y="2.39"><tspan x="0">TGND</tspan><tspan x="0" dy="7.31">PULSE2</tspan><tspan x="0" dy="7.31">SOL2</tspan><tspan x="0" dy="7.31">HALF2</tspan><tspan x="0" dy="7.31">MGND</tspan><tspan x="0" dy="7.31">+12V</tspan><tspan x="0" dy="7.31">MODE2</tspan><tspan x="0" dy="7.31">CAM2</tspan><tspan x="0" dy="7.31">CRD2</tspan><tspan x="0" dy="7.31">MOTOR A</tspan><tspan x="0" dy="7.31">MOTOR B</tspan><tspan x="0" dy="7.31">MOTOR</tspan><tspan x="0" dy="7.31">AMP</tspan><tspan x="0" dy="7.31">AMB</tspan><tspan x="0" dy="7.31">NC</tspan></text>
<text transform="translate(1088.6,120.5) rotate(-90)" y="2.7"><tspan x="0">GND</tspan><tspan x="0" dy="8">RESET</tspan><tspan x="0" dy="8">GND</tspan></text>
<text transform="translate(1198,120.9) rotate(-90)" y="2.48"><tspan x="0">GND</tspan><tspan x="0" dy="7.5">SLDR</tspan><tspan x="0" dy="7.5">PLS3</tspan><tspan x="0" dy="7.5">PLS2</tspan><tspan x="0" dy="7.5">+5V</tspan><tspan x="0" dy="7.5">PLSN</tspan></text>
<text transform="translate(775.5,582.3) rotate(-90)" y="2.36"><tspan x="0">STEREO</tspan><tspan x="0" dy="7.25">+5V</tspan><tspan x="0" dy="7.25">+12V</tspan><tspan x="0" dy="7.25">TUNE</tspan><tspan x="0" dy="7.25">MUTE</tspan><tspan x="0" dy="7.25">MONO</tspan><tspan x="0" dy="7.25">TXL</tspan><tspan x="0" dy="7.25">GND</tspan><tspan x="0" dy="7.25">TXR</tspan><tspan x="0" dy="7.25">PLL CLK</tspan><tspan x="0" dy="7.25">PLL DATA</tspan><tspan x="0" dy="7.25">PLL CE</tspan><tspan x="0" dy="7.25">NC</tspan><tspan x="0" dy="7.25">RDS IN</tspan></text>
<text transform="translate(775.5,664.25) rotate(-90)" y="2.36"><tspan x="0">STEREO</tspan><tspan x="0" dy="7.25">+5V</tspan><tspan x="0" dy="7.25">+12V</tspan><tspan x="0" dy="7.25">TUNE</tspan><tspan x="0" dy="7.25">MUTE</tspan><tspan x="0" dy="7.25">MONO</tspan><tspan x="0" dy="7.25">TXL</tspan><tspan x="0" dy="7.25">GND</tspan><tspan x="0" dy="7.25">TXR</tspan><tspan x="0" dy="7.25">PLL CLK</tspan><tspan x="0" dy="7.25">PLL DATA</tspan><tspan x="0" dy="7.25">PLL CE</tspan><tspan x="0" dy="7.25">NC</tspan><tspan x="0" dy="7.25">RDS IN</tspan></text>
<text transform="translate(906.6,582.3) rotate(-90)" y="2.42"><tspan x="0">FLAC1</tspan><tspan x="0" dy="7.38">FLAC2</tspan><tspan x="0" dy="7.38">NC</tspan><tspan x="0" dy="7.38">MAIN</tspan><tspan x="0" dy="7.38">MAIN</tspan><tspan x="0" dy="7.38">GND</tspan><tspan x="0" dy="7.38">GND</tspan><tspan x="0" dy="7.38">MAIN</tspan><tspan x="0" dy="7.38">MAIN</tspan><tspan x="0" dy="7.38">SUB2</tspan><tspan x="0" dy="7.38">SUB1</tspan><tspan x="0" dy="7.38">SUB GND</tspan><tspan x="0" dy="7.38">SUB1</tspan><tspan x="0" dy="7.38">SUB2</tspan></text>
</g>

<!-- transformer pin numbers & primary links -->
<text class="cl" x="1049" y="617.4" font-size="5.5"><tspan x="1049">10</tspan><tspan x="1049" dy="7.34">11</tspan><tspan x="1049" dy="7.34">12</tspan><tspan x="1049" dy="7.34">13</tspan><tspan x="1049" dy="7.34">14</tspan><tspan x="1049" dy="7.34">15</tspan><tspan x="1049" dy="7.34">16</tspan><tspan x="1049" dy="7.34">17</tspan><tspan x="1049" dy="7.34">18</tspan><tspan x="1049" dy="7.34">19</tspan></text>
<g fill="#fff" stroke="#000" stroke-width="0.7">
<line x1="1094.6" y1="621.6" x2="1113" y2="621.6"/><line x1="1094.6" y1="675" x2="1113" y2="675"/>
<circle cx="1094.6" cy="621.6" r="2"/><circle cx="1094.6" cy="675" r="2"/>
<circle cx="1113" cy="621.6" r="1.6"/><circle cx="1113" cy="675" r="1.6"/>
</g>
<text class="cl" x="1088" y="623.6" font-size="5" text-anchor="end">4</text>
<text class="cl" x="1088" y="677" font-size="5" text-anchor="end">1</text>

<!-- connector names -->
<g class="cl">
<text x="882" y="62" transform="rotate(-90 882 62)">J7601</text>
<text x="922" y="62" transform="rotate(-90 922 62)">J7601</text>
<text x="786" y="89.8">CN7101</text><text x="922" y="89.8">CN7502</text>
<text x="787" y="148">J5</text><text x="925" y="148">J6</text>
<text x="717" y="372" transform="rotate(-90 717 372)">CN1901</text>
<text x="771" y="372" transform="rotate(-90 771 372)">CN1</text>
<text x="500" y="376">CN1902</text><text x="501" y="433.7">CN1701</text>
<text x="717" y="457" transform="rotate(-90 717 457)">CN1702</text>
<text x="771" y="447" transform="rotate(-90 771 447)">CN2</text>
<text x="453" y="550" transform="rotate(-90 453 550)">J1709</text>
<text x="497" y="550" transform="rotate(-90 497 550)">J1709</text>
<text x="512" y="560">J1706</text><text x="596" y="560">J1705</text>
<text x="510" y="640">J1704</text><text x="598" y="640">J1703</text>
<text x="351" y="626" transform="rotate(-90 351 626)">J1763</text>
<text x="393" y="626" transform="rotate(-90 393 626)">J1763</text>
<text x="462" y="640" transform="rotate(-90 462 640)">J1761</text>
<text x="497" y="640" transform="rotate(-90 497 640)">J1761</text>
<text x="940" y="387">CN4001</text><text x="940" y="392" font-size="3">B3B-EH-R</text>
<text x="940" y="435">CN4002</text><text x="940" y="440" font-size="3">B3B-EH</text>
<text x="940" y="466">CN4003</text><text x="940" y="471" font-size="3">B2B-EH</text>
<text x="910" y="405.6" font-size="3">RKP1581</text><text x="910" y="489" font-size="3">RKP1582</text>
<text x="1109" y="105">J8003</text><text x="1109" y="143">J8003</text>
<text x="1232" y="104">CN601</text><text x="1232" y="143">J8004</text>
<text x="1016" y="292" transform="rotate(-90 1016 292)">CN3</text>
<text x="1070" y="296" transform="rotate(-90 1070 296)">CN8001</text>
<text x="1263" y="166" transform="rotate(-90 1263 166)">CN8002</text>
<text x="1303" y="164" transform="rotate(-90 1303 164)">CN653</text>
<text x="1016" y="402" transform="rotate(-90 1016 402)">CN10</text>
<text x="1064" y="402" transform="rotate(-90 1064 402)">CN1510</text>
<text x="1016" y="472" transform="rotate(-90 1016 472)">J10</text>
<text x="1064" y="474" transform="rotate(-90 1064 474)">CN1201</text>
<text x="772" y="561">CN9</text><text x="772" y="609">CN12</text><text x="772" y="643">CN13</text><text x="772" y="691">CN6201</text>
<text x="905" y="561">J8</text><text x="905" y="613">J8</text>
<text x="1211" y="652" font-size="4" transform="rotate(-90 1211 652)">KN1101</text>
</g>

<!-- box texts -->
<text class="ms" x="820" y="34.3" font-size="7">POWER AMP MODULE(AXQ7017)</text>
<text class="m" x="791.5" y="61.3" font-size="7.6">REGULATOR ASSY</text>
<text class="m" x="791.5" y="72.3" font-size="7.6">(AWZ7520)</text>
<text class="m" x="926" y="61.3" font-size="7.6">FRONT 100W ASSY</text>
<text class="m" x="926" y="72.3" font-size="7.6">(AWZ7518)</text>
<text class="m" x="571" y="257.6">DISPLAY ASSY</text>
<text class="m" x="571" y="268">(AWZ7870)</text>
<text class="m" x="571" y="278.4">(➡SCH-5F)</text>
<text class="m" x="852" y="232">AF ASSY</text>
<text class="m" x="852" y="242.5">(AWZ7845)</text>
<text class="m" x="852" y="253">(➡SCH-3F, 4F)</text>
<text class="m" x="560.5" y="485">OPERATION-A ASSY</text>
<text class="m" x="560.5" y="495.5">(AWZ7880)</text>
<text class="m" x="560.5" y="506">(➡SCH-6F)</text>
<text class="m" x="362.6" y="511.6">OPERATION-B ASSY</text>
<text class="m" x="362.6" y="522">(AWZ7911)</text>
<text class="m" x="362.6" y="532.3">(➡SCH-6F)</text>
<text class="m" x="540" y="625">DECK RELAY ASSY (AWZ7902)</text>
<text class="m" x="281" y="621.6">DOOR SW ASSY</text>
<text class="m" x="281" y="631.5">(AWZ7887)</text>
<text class="m" x="400" y="620">JOG ASSY</text>
<text class="m" x="400" y="630">(AWZ7888)</text>
<text class="ms" x="510" y="699.5">MECHA UNIT</text>
<text class="ms" x="618" y="699.5">MECHA UNIT</text>
<text class="m" x="575" y="725">MECHA UNIT (RYM1248) (2/2)</text>
<text class="m" x="835" y="354.5">MECHA UNIT</text>
<text class="m" x="835" y="364">(1/2)(RYM1248)</text>
<text class="ms" x="863" y="386">MECHA</text>
<text class="ms" x="863" y="392.5">UNIT</text>
<text class="ms" x="866" y="398.5" font-size="5">HEAD</text>
<text class="ms" x="863" y="448">MECHA</text>
<text class="ms" x="863" y="454.5">UNIT</text>
<text class="ms" x="868" y="461" font-size="5">HEAD</text>
<text class="m" x="1070" y="78">HOME SW ASSY</text>
<text class="m" x="1070" y="88.5">(AWZ7917)</text>
<text class="m" x="1215" y="72">GM SLOT MECHA (AXA7027)</text>
<text class="ms" x="1159" y="86">LED BOARD ASSY</text><text class="ms" x="1159" y="92">(AWZ7840)</text>
<text class="ms" x="1232" y="86">SENSOR BOARD ASSY</text><text class="ms" x="1232" y="92">(AWZ7839)</text>
<text class="ms" x="1319" y="86">MOTOR BOARD ASSY</text><text class="ms" x="1319" y="92">(AWZ7841)</text>
<text class="m" x="1119.6" y="221.5">CD ASSY (AWZ7890)</text>
<text class="m" x="1308" y="182" font-size="7.8">GM MECHA(AXA7026)</text>
<g class="ms" font-size="6.3">
<text x="1308" y="196">MECHA BOARD ASSY</text><text x="1308" y="203.5">(AWZ7835)</text>
<text x="1308" y="213.5">SENSOR BOARD ASSY</text><text x="1308" y="221">(AWZ7836)</text>
<text x="1308" y="233">MOTOR BOARD ASSY</text><text x="1308" y="240.5">(AWZ7837)</text>
<text x="1308" y="252">SW BOARD ASSY</text><text x="1308" y="259.5">(AWZ7838)</text>
<text x="1308" y="272">MECHA BOARD ASSY</text><text x="1308" y="279.5">(PWX1192)</text>
</g>
<text class="m" x="1085.7" y="352.5">VOL ASSY</text>
<text class="m" x="1085.7" y="363">(AWZ7897)</text>
<text class="m" x="1085.7" y="373.3">(➡SCH-4F)</text>
<text class="m" x="1073" y="445.5">HEADPHONE ASSY</text>
<text class="m" x="1073" y="455.7">(AWZ7914)</text>
<text class="m" x="1073" y="465.8">(➡SCH-4F)</text>
<text class="m" x="789" y="617">TX CONNECT ASSY</text>
<text class="m" x="789" y="627">(AWZ8176)</text>
<text class="m" x="789" y="637">(➡SCH-4F)</text>
<text class="m" x="775" y="703">FM/AM TUNER MODULE</text>
<text class="m" x="794" y="713">(AXQ7014)</text>
<text class="m" x="794" y="723">(➡SCH-2F)</text>
<text class="ms" x="854" y="716" font-size="4.8">SHIELD</text>
<text class="ms" x="854" y="722" font-size="4.8">CASE</text>
<text class="m" x="921.7" y="638">SECONDARY ASSY</text>
<text class="m" x="921.7" y="648.5">(AWZ7864)</text>
<text class="m" x="921.7" y="659">(➡SCH-4F)</text>
<text class="m" x="1124" y="628">PRIMARY ASSY</text>
<text class="m" x="1124" y="638.5">(AWZ7898)</text>
<text class="m" x="1124" y="649">(➡SCH-4F)</text>
<text class="ms" x="1163" y="663">FU1</text>
<path d="M1161 672 q2 -4 4 0 t4 0" fill="none" stroke="#000" stroke-width="0.7"/>
<text class="n" x="1155" y="674" font-size="6" font-weight="normal">⚠</text>
<text class="n" x="1050" y="599" font-size="6" font-weight="normal">⚠</text>
<text class="ms" x="1057" y="593" font-size="3.8">POWER TRANSFORMER</text>
<text class="ms" x="1057" y="598.5" font-size="3.8">(ATS7088)</text>
<text class="n" x="1207" y="632" font-size="6" font-weight="normal">⚠</text>
<text class="n" x="1240" y="662" font-size="6" font-weight="normal">⚠</text>
<g class="ms" font-size="3.9">
<text x="1211" y="606.5">XR-P760F/MY/EA, MY/EB, MYI :</text>
<text x="1291" y="613.5" text-anchor="end">AC 220-230V</text>
<text x="1291" y="621" text-anchor="end">XR-P760F/MY:  AC 230V</text>
<text x="1232" y="631">50/60Hz</text>
<text x="1221" y="668">AC POWER CORD</text>
<text x="1211" y="674.6">XR-P760F/MY/EA, MY/EB, MYI :</text>
<text x="1291" y="680.6" text-anchor="end">ADG1153</text>
<text x="1291" y="687" text-anchor="end">XR-P760F/MY: PDG1055</text>
</g>
<g fill="none" stroke="#000" stroke-width="0.8">
<rect x="1202" y="636" width="6" height="18" fill="#fff"/>
<circle cx="1205" cy="641" r="2"/><circle cx="1205" cy="649" r="2"/>
<path d="M1208 641 H1232 M1208 649 H1232 M1236 636 q-5 0 -5 9 q0 9 5 9 Z M1236 640 H1241 M1236 650 H1241"/>
<path d="M1243 655 V661"/>
<path d="M884 717 H891 M891 713.5 V720.5 M893.5 713.5 V720.5 M893.5 717 H897 V723 M895 723 H899 L897 726 Z"/>
</g>
<text class="n" x="889" y="712" font-size="3">C1</text>
<text class="n" x="886" y="728" font-size="3">1800P</text>
</svg>
</body></html>
